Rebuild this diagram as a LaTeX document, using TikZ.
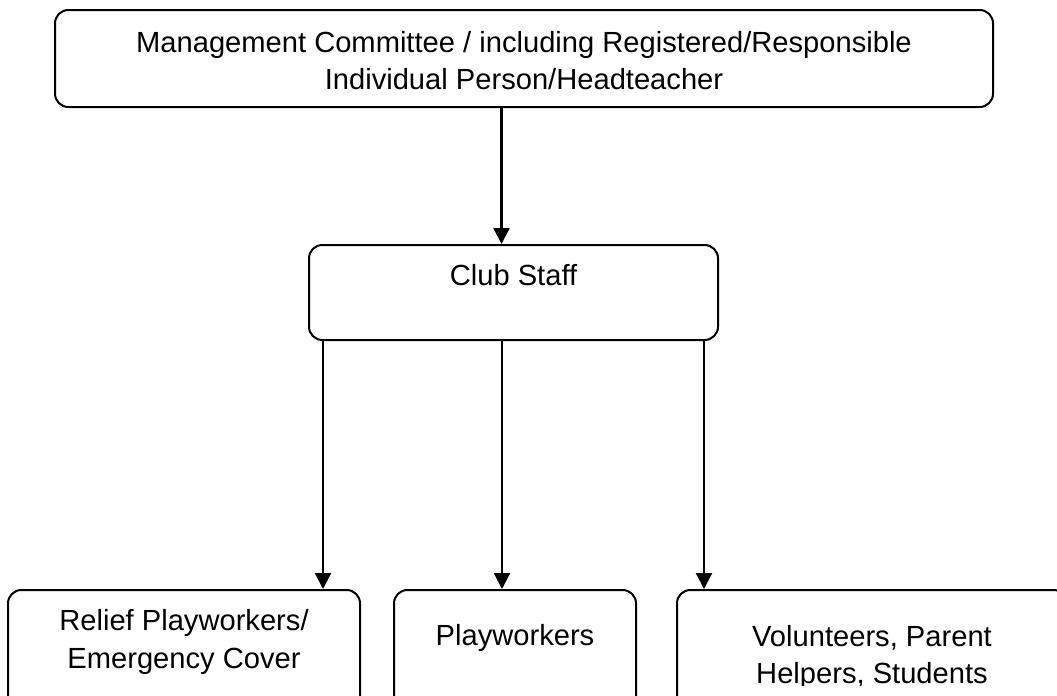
\documentclass[tikz,border=0pt]{standalone}
\usepackage{fontspec}
\setmainfont{Liberation Sans}
\usetikzlibrary{arrows.meta,fit}
\begin{document}
\begin{tikzpicture}[x=0.75pt,y=-0.75pt,
  box/.style={draw=black, line width=1.5pt, rounded corners=10pt, inner sep=0pt},
  lbl/.style={anchor=base, inner sep=0pt, font=\fontsize{21.85pt}{27.75pt}\selectfont},
  arr/.style={draw=black, line width=1.7pt, -{Triangle[length=12pt,width=12pt]}}]
\useasboundingbox (0,0) rectangle (1057,696);
\clip (0,0) rectangle (1057,696);
% boxes
\node[box, fit={(55,10) (993,107)}] (top) {};
\node[box, fit={(309,245) (718,340)}] (club) {};
\node[box, fit={(8,590) (360,730)}] (relief) {};
\node[box, fit={(394,590) (636,730)}] (play) {};
\node[box, fit={(677,590) (1067,730)}] (vol) {};
% texts
\node[lbl] (top1) at (524,52) {Management Committee / including Registered/Responsible};
\node[lbl] (top2) at (524,89) {Individual Person/Headteacher};
\node[lbl] (clubt) at (513.5,285) {Club Staff};
\node[lbl] (rel1) at (184,630) {Relief Playworkers/};
\node[lbl] (rel2) at (184,668) {Emergency Cover};
\node[lbl] (playt) at (515,645) {Playworkers};
\node[lbl] (vol1) at (872,646) {Volunteers, Parent};
\begin{scope}
  \clip (677,590) rectangle (1057,685);
  \node[lbl] (vol2) at (872,683) {Helpers, Students};
\end{scope}
% connector x positions
\coordinate (xa) at (501.5,0);
\coordinate (xb) at (323,0);
\coordinate (xc) at (502,0);
\coordinate (xd) at (704,0);
% connectors
\draw[arr] (top.south -| xa) -- (club.north -| xa);
\draw[arr] (club.south -| xb) -- (relief.north -| xb);
\draw[arr] (club.south -| xc) -- (play.north -| xc);
\draw[arr] (club.south -| xd) -- (vol.north -| xd);
\end{tikzpicture}
\end{document}
